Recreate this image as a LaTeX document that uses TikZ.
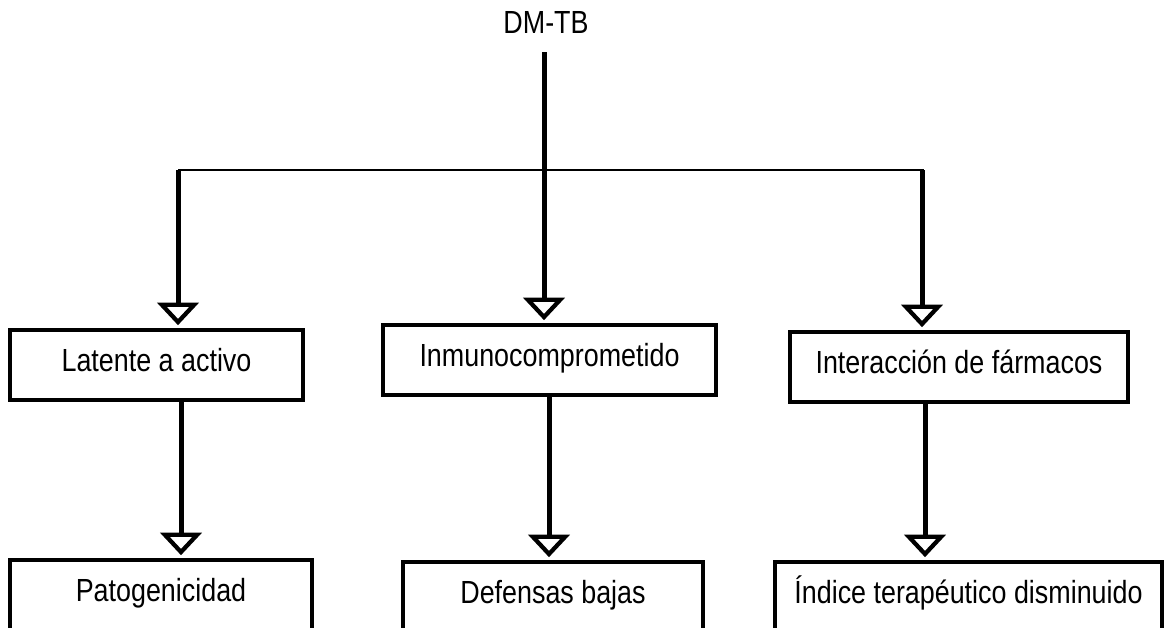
\documentclass[tikz,border=0pt]{standalone}
\usepackage{fontspec}
\setmainfont{Liberation Sans}[FakeStretch=0.84]
\usetikzlibrary{arrows.meta}

\begin{document}
\begin{tikzpicture}[x=0.75pt,y=-0.75pt,
  every node/.style={font=\fontsize{24}{28}\selectfont,text height=17.2pt,text depth=7.2pt},
  box/.style={draw,line width=3.2pt,minimum height=52.5pt,inner sep=0pt},
  link/.style={line width=3.75pt,-{Triangle[open,width=31pt,length=17pt,line width=3.2pt]},shorten >=2pt},
  bus/.style={line width=1.5pt}
  ]
    \useasboundingbox (0,0) rectangle (1167,628);
    \clip (0,0) rectangle (1167,628);

    \node (dm) at (546,27) {DM-TB};
    % first row
    \node[box,minimum width=219.75pt] (lat) at (156.5,365) {Latente a activo};
    \node[box,minimum width=249.75pt] (inm) at (549.5,360) {Inmunocomprometido};
    \node[box,minimum width=253.5pt] (int) at (959,367) {Interacción de fármacos};
    % second row
    \node[box,minimum width=226.5pt] (pat) at (161,595) {Patogenicidad};
    \node[box,minimum width=225pt] (def) at (553,597) {Defensas bajas};
    \node[box,minimum width=290.25pt] (ind) at (968.5,597) {Índice terapéutico disminuido};

    \coordinate (trunk) at (544,52);
    \coordinate (busL) at (178,170);
    \coordinate (busR) at (924,170);
    \coordinate (colL) at (181,0);
    \coordinate (colM) at (549,0);
    \coordinate (colR) at (925,0);

    \draw[bus] (busL) -- (busR);
    \draw[link] (trunk) -- (trunk |- inm.north);
    \draw[link] (busL) -- (busL |- lat.north);
    \draw[link] ([xshift=-1.5pt]busR) -- ([xshift=-1.5pt]busR |- int.north);

    \draw[link] (lat.south -| colL) -- (pat.north -| colL);
    \draw[link] (inm.south -| colM) -- (def.north -| colM);
    \draw[link] (int.south -| colR) -- (ind.north -| colR);
\end{tikzpicture}
\end{document}
